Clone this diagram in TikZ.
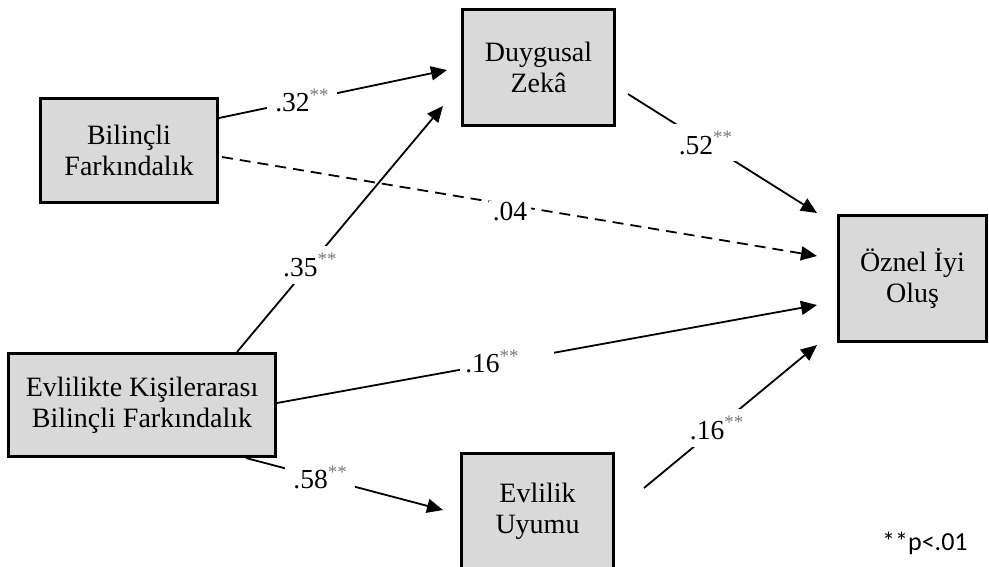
\documentclass[tikz,border=0pt]{standalone}
\usepackage{fontspec}
\setmainfont{Liberation Serif}
\newfontfamily\notefont{Carlito}
\usetikzlibrary{arrows.meta,calc}
\definecolor{boxgray}{HTML}{D9D9D9}
\definecolor{stargray}{HTML}{7A7A7A}
% significance stars set as a small grey superscript
\newcommand{\sig}{\raisebox{10.5pt}{\fontsize{19}{19}\selectfont\color{stargray}**}}

\begin{document}
\begin{tikzpicture}[x=1pt,y=-1pt,
  varbox/.style={draw, line width=2.6pt, fill=boxgray, align=center,
    inner sep=0pt, font=\fontsize{28}{31}\selectfont},
  link/.style={line width=1.8pt, -{Triangle[length=16pt,width=14pt]}},
  coef/.style={fill=white, inner xsep=8pt, inner ysep=7pt,
    font=\fontsize{27.5}{27.5}\selectfont},
]
\useasboundingbox (0,0) rectangle (989,566);

% variables
\node[varbox, minimum width=177.4pt, minimum height=104.4pt] (bf) at (129,150.5) {Bilinçli\\Farkındalık};
\node[varbox, minimum width=152.4pt, minimum height=116.4pt] (dz) at (538.5,67.5) {Duygusal\\Zekâ};
\node[varbox, minimum width=148.4pt, minimum height=126.4pt] (oi) at (912.5,278.5) {Öznel İyi\\Oluş};
\node[varbox, minimum width=267.4pt, minimum height=103.4pt] (ek) at (142,405) {Evlilikte Kişilerarası\\Bilinçli Farkındalık};
\node[varbox, minimum width=152.4pt, minimum height=115.4pt] (eu) at (537.5,511) {Evlilik\\Uyumu};

% paths with standardized coefficients
\draw[link] ($(bf.east)+(0,-32.5)$) -- node[coef, pos=0.364] (c1) {.32\sig} ($(dz.west)+(-14,2.5)$);
\draw[link] ($(ek.north)+(95,0)$) -- node[coef, pos=0.354] (c2) {.35\sig} ($(dz.south west)+(-18,-21)$);
\draw[link] ($(dz.east)+(12,26.5)$) -- node[coef, pos=0.41] (c3) {.52\sig} ($(oi.north west)+(-20,-1)$);
\draw[link, dash pattern=on 11pt off 7pt] ($(bf.east)+(3,6.5)$) -- node[coef, pos=0.484, yshift=-7pt, inner xsep=4pt, inner ysep=2pt] (c4) {.04} ($(oi.west)+(-20,-22.5)$);
\draw[link] ($(ek.east)+(0,-2)$) -- node[coef, pos=0.426, inner xsep=5pt] (c5) {.16\sig\hspace*{30pt}} ($(oi.west)+(-20,26.5)$);
\draw[link] ($(ek.south)+(104,0)$) -- node[coef, pos=0.376] (c6) {.58\sig} ($(eu.west)+(-17,-1)$);
\draw[link] ($(eu.east)+(29,-23)$) -- node[coef, pos=0.42] (c7) {.16\sig} ($(oi.south west)+(-20,2)$);

% significance note
\node[anchor=base west, inner sep=0pt, font=\notefont\fontsize{26}{26}\selectfont] (note) at (882,550) {**p<.01};
\end{tikzpicture}
\end{document}
